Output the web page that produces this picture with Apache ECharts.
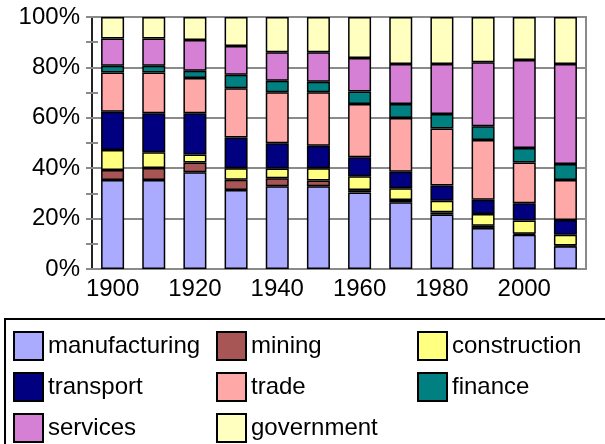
<!DOCTYPE html>
<html>
<head>
<meta charset="utf-8">
<script src="https://cdn.jsdelivr.net/npm/echarts@6/dist/echarts.min.js"></script>
<style>
  html, body { margin: 0; padding: 0; background: #fff; }
  #chart { width: 605px; height: 444px; }
</style>
</head>
<body>
<div id="chart"></div>
<script>
// share of employment by sector (%)
const years = ['1900', '1910', '1920', '1930', '1940', '1950', '1960', '1970', '1980', '1990', '2000', '2010'];
const manufacturing = [35.3, 35.3, 38.4, 31.3, 32.8, 32.8, 30.4, 26.5, 21.6, 16.3, 13.6, 9.0];
const mining        = [4.0, 4.8, 3.9, 4.1, 3.2, 2.3, 0.9, 0.9, 0.9, 0.9, 0.4, 0.3];
const construction  = [7.9, 6.2, 3.1, 4.6, 3.9, 4.9, 5.5, 4.6, 4.6, 4.6, 5.2, 4.3];
const transport     = [15.2, 15.5, 16.4, 12.2, 10.0, 8.9, 7.5, 6.6, 6.0, 5.7, 6.9, 5.8];
const trade         = [15.6, 16.2, 14.0, 19.5, 20.2, 21.2, 21.2, 21.3, 22.7, 23.7, 16.2, 15.9];
const finance       = [2.7, 2.7, 2.9, 5.4, 4.6, 4.2, 4.9, 5.6, 5.7, 5.4, 5.7, 6.4];
const services      = [10.8, 10.8, 12.2, 11.4, 11.3, 11.7, 13.3, 15.8, 19.8, 25.4, 34.9, 39.6];
const government    = [8.5, 8.5, 9.1, 11.5, 14.0, 14.0, 16.3, 18.7, 18.7, 18.0, 17.1, 18.7];

const sectorNames = ['manufacturing', 'mining', 'construction', 'transport', 'trade', 'finance', 'services', 'government'];
const sectorData = [manufacturing, mining, construction, transport, trade, finance, services, government];
const sectorColors = ['#aaaaff', '#a85555', '#ffff80', '#000080', '#ffa8a8', '#008080', '#d580d5', '#ffffc0'];

const font = 'Liberation Sans, Arial, sans-serif';

let chart = echarts.init(document.getElementById('chart'));

let series = sectorNames.map(function (name, i) {
    return {
        name: name,
        type: 'bar',
        stack: 'all',
        barWidth: 23,
        data: sectorData[i],
        itemStyle: { color: sectorColors[i], borderColor: '#000', borderWidth: 1.5 }
    };
});

// legend is 3 columns, one vertical legend each
function legendCol(left, names) {
    return {
        orient: 'vertical',
        left: left,
        top: 331,
        height: 113,
        padding: 0,
        itemWidth: 29,
        itemHeight: 28,
        itemGap: 11,
        icon: 'rect',
        selectedMode: false,
        data: names,
        textStyle: { fontFamily: font, fontSize: 24, color: '#000' }
    };
}

let option = {
    animation: false,
    grid: {
        left: 92, right: 19, top: 17, bottom: 175,
        show: true, borderColor: '#8a8a8a', borderWidth: 2
    },
    xAxis: [{
        type: 'category',
        data: years,
        axisLine: { lineStyle: { color: '#8a8a8a', width: 2 } },
        axisTick: { interval: 0, length: 5, lineStyle: { color: '#8a8a8a', width: 2 } },
        axisLabel: { interval: 1, margin: 8, fontFamily: font, fontSize: 24, color: '#000' }
    }, {
        type: 'category',
        data: years,
        position: 'bottom',
        axisLine: { show: false },
        axisTick: { interval: 0, inside: true, length: 5, lineStyle: { color: '#8a8a8a', width: 2 } },
        axisLabel: { show: false }
    }],
    yAxis: [{
        type: 'value',
        min: 0, max: 100, interval: 20,
        axisLine: { show: true, lineStyle: { color: '#222', width: 2 } },
        axisTick: { show: true, length: 6, lineStyle: { color: '#8a8a8a', width: 2 } },
        minorTick: { show: true, splitNumber: 2, length: 6, lineStyle: { color: '#8a8a8a', width: 2 } },
        splitLine: { lineStyle: { color: '#8a8a8a', width: 2 } },
        axisLabel: { formatter: '{value}%', margin: 12, fontFamily: font, fontSize: 24, color: '#000' }
    }, {
        type: 'value',
        min: 0, max: 100, interval: 20,
        position: 'left',
        axisLine: { show: false },
        axisTick: { show: true, inside: true, length: 6, lineStyle: { color: '#8a8a8a', width: 2 } },
        minorTick: { show: true, splitNumber: 2, length: 6, lineStyle: { color: '#8a8a8a', width: 2 } },
        splitLine: { show: false },
        axisLabel: { show: false }
    }],
    legend: [
        legendCol(13, ['manufacturing', 'transport', 'services']),
        legendCol(216, ['mining', 'trade', 'government']),
        legendCol(417, ['construction', 'finance'])
    ],
    graphic: [{
        type: 'rect',
        shape: { x: 5, y: 319, width: 620, height: 140 },
        style: { fill: null, stroke: '#000', lineWidth: 2 },
        silent: true
    }],
    series: series
};

chart.setOption(option);
</script>
</body>
</html>
